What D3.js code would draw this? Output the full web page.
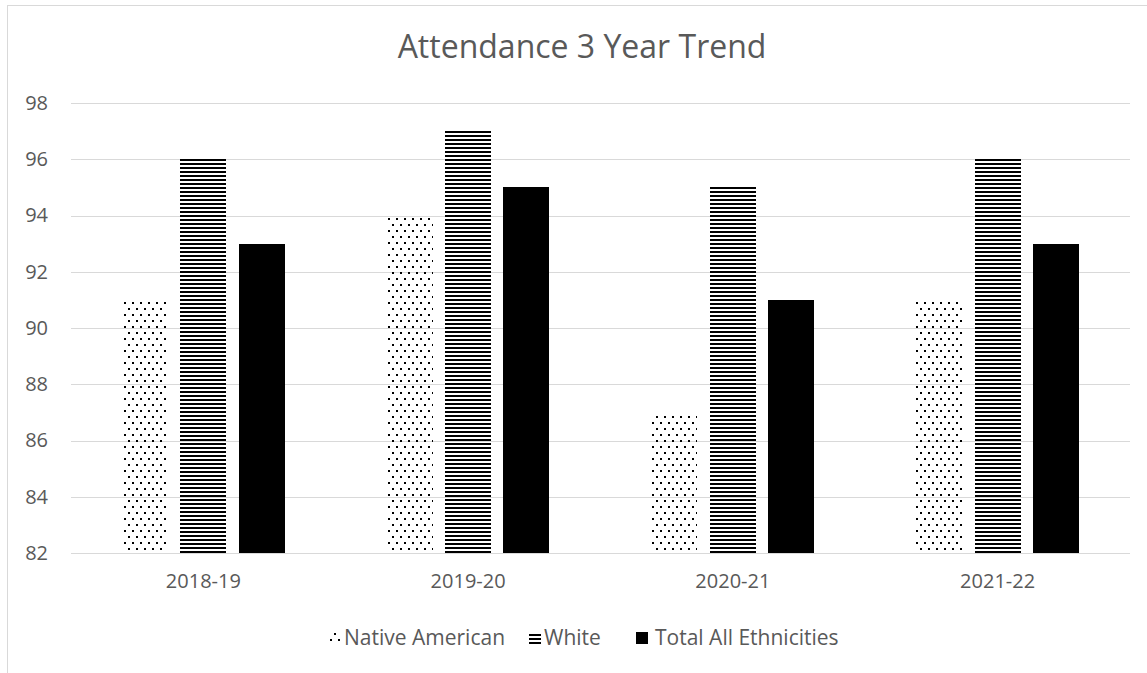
<!DOCTYPE html>
<html>
<head>
<meta charset="utf-8">
<script src="https://cdn.jsdelivr.net/npm/d3@7"></script>
<style>
	body { margin: 0; background: #fff; }
	svg text { font-family: "Open Sans", sans-serif; fill: #595959; }
</style>
</head>
<body>
<script>
const years = ['2018-19', '2019-20', '2020-21', '2021-22'];
const seriesNames = ['Native American', 'White', 'Total All Ethnicities'];
const nativeAmerican = [91, 94, 87, 91];
const white = [96, 97, 95, 96];
const totalAll = [93, 95, 91, 93];
const yTicks = [82, 84, 86, 88, 90, 92, 94, 96, 98];

const seriesValues = [nativeAmerican, white, totalAll];
const fills = ['url(#dots)', 'url(#hlines)', '#000'];

const W = 1147, H = 673;
const margin = { top: 103, bottom: 120, left: 71, right: 17 };
const width = W - margin.left - margin.right;
const height = H - margin.top - margin.bottom;

const svg = d3.select('body').append('svg')
	.attr('width', W)
	.attr('height', H);

// patterns for the two hatched series
const defs = svg.append('defs');
const dots = defs.append('pattern')
	.attr('id', 'dots')
	.attr('patternUnits', 'userSpaceOnUse')
	.attr('width', 8).attr('height', 12);
dots.append('rect').attr('x', 1).attr('y', 1).attr('width', 2).attr('height', 2).attr('fill', '#000');
dots.append('rect').attr('x', 5).attr('y', 7).attr('width', 2).attr('height', 2).attr('fill', '#000');

const hlines = defs.append('pattern')
	.attr('id', 'hlines')
	.attr('patternUnits', 'userSpaceOnUse')
	.attr('width', 8).attr('height', 4);
hlines.append('rect').attr('x', 0).attr('y', 0).attr('width', 8).attr('height', 2).attr('fill', '#000');

// chart frame
svg.append('rect')
	.attr('x', 7.5).attr('y', 5.5)
	.attr('width', 1150).attr('height', 680)
	.attr('fill', 'none')
	.attr('stroke', '#d9d9d9');

svg.append('text')
	.attr('x', 582)
	.attr('y', 58)
	.attr('text-anchor', 'middle')
	.style('font-size', '32px')
	.text('Attendance 3 Year Trend');

const g = svg.append('g')
	.attr('transform', 'translate(' + margin.left + ',' + margin.top + ')');

const x0 = d3.scaleBand().domain(years).range([0, width]);
const groupW = 163;
const x1 = d3.scaleBand()
	.domain(seriesNames)
	.range([(x0.bandwidth() - groupW) / 2, (x0.bandwidth() + groupW) / 2])
	.paddingInner(0.21);
const y = d3.scaleLinear().domain([82, 98]).range([height, 0]);

// gridlines
g.append('g')
	.selectAll('line')
	.data(yTicks)
	.enter().append('line')
	.attr('x1', 0).attr('x2', width)
	.attr('y1', d => Math.round(y(d)) + 0.5)
	.attr('y2', d => Math.round(y(d)) + 0.5)
	.attr('stroke', '#d9d9d9')
	.attr('stroke-width', 1);

const yAxis = d3.axisLeft(y).tickValues(yTicks).tickSize(0).tickPadding(23);
g.append('g')
	.attr('class', 'y axis')
	.call(yAxis)
	.call(s => s.select('.domain').remove())
	.selectAll('text')
	.style('font-size', '20px');

const xAxis = d3.axisBottom(x0).tickSize(0).tickPadding(21);
g.append('g')
	.attr('class', 'x axis')
	.attr('transform', 'translate(0,' + height + ')')
	.call(xAxis)
	.call(s => s.select('.domain').remove())
	.selectAll('text')
	.style('font-size', '20px');

// bars
seriesNames.forEach(function(name, i) {
	g.append('g')
		.selectAll('rect')
		.data(years)
		.enter().append('rect')
		.attr('x', d => Math.round(x0(d) + x1(name)))
		.attr('y', (d, j) => Math.round(y(seriesValues[i][j])))
		.attr('width', Math.round(x1.bandwidth()))
		.attr('height', (d, j) => Math.round(height - y(seriesValues[i][j])))
		.attr('fill', fills[i]);
});

// legend
const legendX = [329, 529, 636];
const legend = svg.append('g')
	.attr('transform', 'translate(0,638)');
seriesNames.forEach(function(name, i) {
	const item = legend.append('g').attr('transform', 'translate(' + legendX[i] + ',0)');
	item.append('rect')
		.attr('x', 0).attr('y', -6)
		.attr('width', 12).attr('height', 12)
		.attr('fill', fills[i]);
	item.append('text')
		.attr('x', i === 2 ? 19 : 15)
		.attr('y', 0)
		.attr('dy', '0.35em')
		.style('font-size', '21px')
		.text(name);
});
</script>
</body>
</html>
